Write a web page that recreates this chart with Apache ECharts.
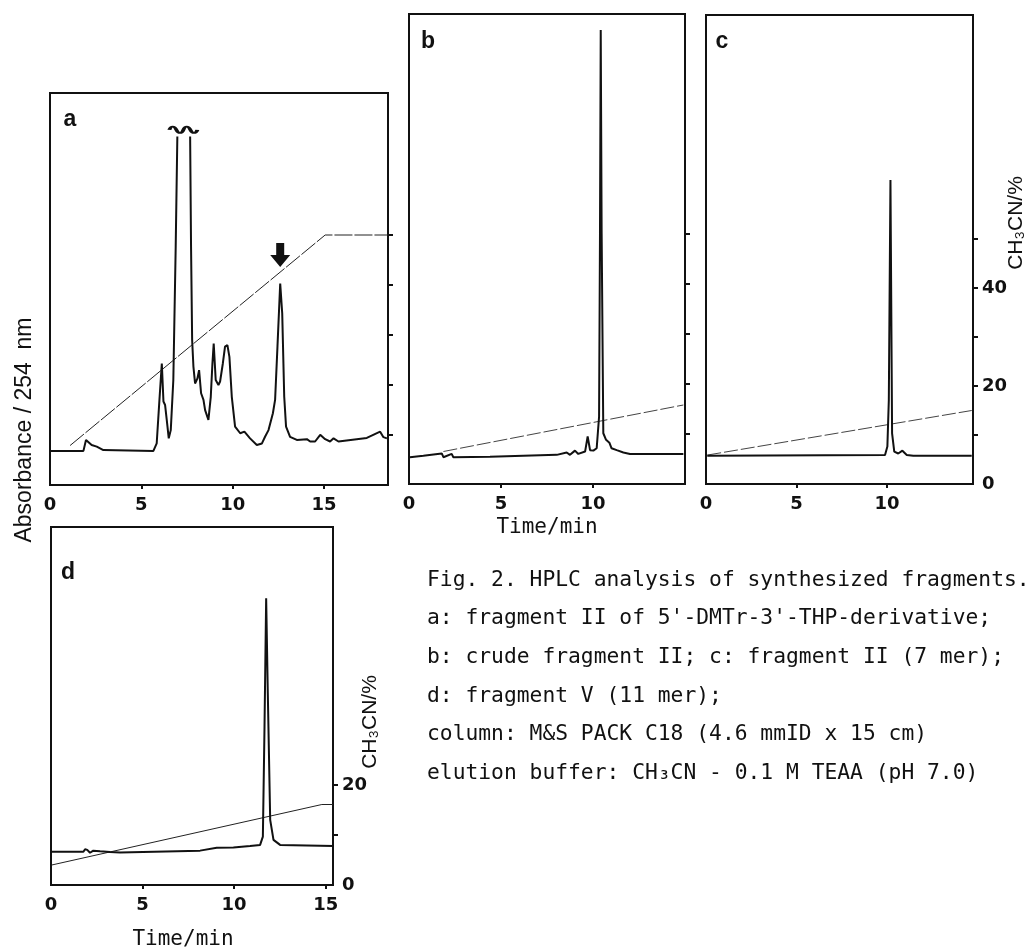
<!DOCTYPE html>
<html>
<head>
<meta charset="utf-8">
<title>Fig. 2. HPLC analysis of synthesized fragments</title>
<script src="https://cdn.jsdelivr.net/npm/echarts@6/dist/echarts.min.js"></script>
<style>
html, body { margin: 0; padding: 0; background: #fff; }
#main { width: 1034px; height: 951px; }
</style>
</head>
<body>
<div id="main"></div>
<script>
// a: fragment II of 5'-DMTr-3'-THP-derivative (absorbance in % of panel height)
var timeA = [0, 1.83, 1.97, 2.28, 2.56, 2.92, 5.66, 5.84, 5.99, 6.12, 6.21, 6.30, 6.39, 6.50, 6.61, 6.75,
  6.88, 6.97, 7.3, 7.67, 7.72, 7.78, 7.85, 7.94, 8.07, 8.16, 8.27, 8.40, 8.49, 8.67, 8.80, 8.89, 8.96,
  9.07, 9.22, 9.31, 9.46, 9.58, 9.71, 9.82, 9.95, 10.13, 10.41, 10.64, 10.95, 11.32, 11.60, 11.77, 11.96,
  12.20, 12.32, 12.45, 12.60, 12.71, 12.82, 12.92, 13.14, 13.51, 14.06, 14.24, 14.51, 14.79, 15.06, 15.33,
  15.52, 15.79, 17.34, 18.07, 18.25, 18.44];
var absA = [8.7, 8.7, 11.5, 10.2, 9.8, 8.9, 8.7, 10.6, 21.7, 31.0, 21.3, 20.4, 16.6, 11.9, 14.0, 26.8,
  60.8, 88.9, null, 88.9, 60.8, 37.0, 30.2, 25.9, 27.2, 29.3, 23.4, 21.7, 19.1, 16.6, 22.5, 31.0, 36.1,
  26.8, 25.5, 26.4, 31.0, 35.3, 35.7, 32.7, 22.5, 14.9, 13.2, 13.6, 11.9, 10.2, 10.6, 12.3, 14.0,
  18.3, 21.7, 35.3, 51.4, 43.8, 22.5, 14.9, 12.3, 11.5, 11.7, 11.1, 11.1, 12.8, 11.7, 11.1,
  11.9, 11.1, 12.0, 13.6, 12.2, 11.9];
var gradTimeA = [1.1, 15.06, 18.5];
var gradA = [7.9, 50, 50];
var arrowA = [12.6, 55.6];
var breakA = [7.3, 90.6];

// b: crude fragment II
var timeB = [0.05, 0.78, 1.78, 1.87, 2.32, 2.41, 4.40, 8.03, 8.57, 8.75, 9.02, 9.20, 9.57, 9.71, 9.77,
  9.84, 10.02, 10.20, 10.33, 10.38, 10.42, 10.47, 10.56, 10.71, 10.89, 11.01, 11.29, 11.65, 12.01, 14.91];
var absB = [5.7, 6.0, 6.5, 5.7, 6.4, 5.7, 5.8, 6.2, 6.7, 6.2, 7.1, 6.4, 6.9, 10.1, 10.1,
  7.2, 7.1, 7.6, 14.3, 53.3, 96.6, 53.3, 10.8, 9.4, 8.8, 7.6, 7.2, 6.7, 6.4, 6.4];
var gradTimeB = [1.87, 14.91];
var gradB = [6.5, 15.8];

// c: fragment II (7 mer)
var timeC = [0.07, 9.89, 10.02, 10.10, 10.19, 10.28, 10.40, 10.62, 10.72, 10.85, 11.09, 11.45, 14.68];
var absC = [6.0, 6.2, 8.0, 17.9, 64.8, 10.8, 6.9, 6.5, 6.9, 7.1, 6.2, 6.0, 6.0];
var gradTimeC = [0.07, 14.68];
var gradC = [5.9, 15.0];

// d: fragment V (11 mer)
var timeD = [0.04, 1.77, 1.86, 1.98, 2.13, 2.31, 2.68, 3.22, 3.77, 8.14, 9.05, 9.96, 10.87, 11.42,
  11.57, 11.66, 11.75, 11.84, 11.97, 12.15, 12.51, 15.43];
var absD = [9.3, 9.3, 10.0, 9.8, 9.0, 9.6, 9.4, 9.2, 9.1, 9.6, 10.4, 10.5, 10.9, 11.2,
  13.5, 44.2, 80.1, 53.5, 18.2, 12.6, 11.2, 10.9];
var gradTimeD = [0.04, 14.79, 15.4];
var gradD = [4.0, 16.1, 16.1];

// tick labels
var timeLabelsLong = [0, 5, 10, 15];
var timeTicksLong = [5, 10, 15];
var timeLabelsShort = [0, 5, 10];
var timeTicksShort = [5, 10];
var pctTicks = [10, 20, 30, 40, 50];
var pctLabelsC = [0, 20, 40];
var pctTicksD = [10, 20];
var pctLabelsD = [0, 20];

var captionLines = [
  'Fig. 2. HPLC analysis of synthesized fragments.',
  "a: fragment II of 5'-DMTr-3'-THP-derivative;",
  'b: crude fragment II; c: fragment II (7 mer);',
  'd: fragment V (11 mer);',
  'column: M&S PACK C18 (4.6 mmID x 15 cm)',
  'elution buffer: CH\u2083CN - 0.1 M TEAA (pH 7.0)'
];

var ink = '#111';
var sans = 'Liberation Sans, Arial, sans-serif';
var tickFont = 'DejaVu Sans, sans-serif';
var mono = 'DejaVu Sans Mono, monospace';

function pts(xs, ys) {
  return xs.map(function (x, i) { return [x, ys[i] == null ? '-' : ys[i]]; });
}

var panels = [
  {left: 50, top: 93, width: 338, height: 392, xMax: 18.5, pctMax: 78.4,
    xLabels: timeLabelsLong, xTicks: timeTicksLong, pctTicks: pctTicks, pctLabels: [],
    trace: pts(timeA, absA), grad: pts(gradTimeA, gradA), gradColor: '#222', dash: [18, 2]},
  {left: 409, top: 14, width: 276, height: 470, xMax: 15, pctMax: 94,
    xLabels: timeLabelsShort, xTicks: timeTicksShort, pctTicks: pctTicks, pctLabels: [],
    trace: pts(timeB, absB), grad: pts(gradTimeB, gradB), gradColor: '#444', dash: [14, 3],
    name: 'Time/min', nameGap: 33, namePad: [0, 0, 0, 0]},
  {left: 706, top: 15, width: 267, height: 469, xMax: 14.75, pctMax: 95.7,
    xLabels: timeLabelsShort, xTicks: timeTicksShort, pctTicks: pctTicks, pctLabels: pctLabelsC,
    trace: pts(timeC, absC), grad: pts(gradTimeC, gradC), gradColor: '#444', dash: [14, 3]},
  {left: 51, top: 527, width: 282, height: 358, xMax: 15.4, pctMax: 71.6,
    xLabels: timeLabelsLong, xTicks: timeTicksLong, pctTicks: pctTicksD, pctLabels: pctLabelsD,
    trace: pts(timeD, absD), grad: pts(gradTimeD, gradD), gradColor: '#222', dash: 'solid',
    name: 'Time/min', nameGap: 44, namePad: [0, 18, 0, 0]}
];

var grids = [], xAxes = [], yAxes = [], series = [];
panels.forEach(function (p, i) {
  grids.push({
    left: p.left, top: p.top, width: p.width, height: p.height,
    show: true, borderColor: ink, borderWidth: 2, backgroundColor: 'transparent'
  });
  xAxes.push({
    gridIndex: i, type: 'value', min: 0, max: p.xMax,
    name: p.name || '', nameLocation: 'middle', nameGap: p.nameGap || 30,
    nameTextStyle: {fontFamily: mono, fontSize: 21, color: ink, padding: p.namePad || 0},
    axisLine: {show: false},
    axisTick: {show: true, customValues: p.xTicks, length: 4, lineStyle: {color: ink, width: 2}},
    axisLabel: {show: true, customValues: p.xLabels, margin: 11, color: ink,
      fontSize: 18, fontWeight: 'bold', fontFamily: tickFont},
    splitLine: {show: false}
  });
  yAxes.push({gridIndex: i, type: 'value', min: 0, max: 100, show: false});
  yAxes.push({
    gridIndex: i, type: 'value', position: 'right', min: 0, max: p.pctMax,
    axisLine: {show: false},
    axisTick: {show: true, customValues: p.pctTicks, length: 5, lineStyle: {color: ink, width: 2}},
    axisLabel: {show: p.pctLabels.length > 0, customValues: p.pctLabels, margin: 9,
      color: ink, fontSize: 18, fontWeight: 'bold', fontFamily: tickFont},
    splitLine: {show: false}
  });
  series.push({
    type: 'line', xAxisIndex: i, yAxisIndex: 2 * i + 1, data: p.grad, z: 2,
    symbol: 'none', silent: true,
    lineStyle: {color: p.gradColor, width: 1, type: p.dash}
  });
  series.push({
    type: 'line', xAxisIndex: i, yAxisIndex: 2 * i, data: p.trace, z: 3,
    symbol: 'none', connectNulls: false, silent: true,
    lineStyle: {color: ink, width: 2}
  });
});

// arrow on the product peak and break mark over the off-scale peaks in a
series[1].markPoint = {
  silent: true,
  label: {show: false},
  data: [
    {coord: arrowA, symbol: 'path://M6,0 L14,0 L14,12 L20,12 L10,24 L0,12 L6,12 Z',
      symbolSize: [20, 24], symbolOffset: [0, -12], itemStyle: {color: ink}},
    {coord: breakA,
      symbol: 'path://M0,5 C2,0 5,0 7.5,5 C10,10 13,10 15,5 C17,0 20,0 22.5,5 C25,10 28,10 30,5',
      symbolSize: [28, 7], itemStyle: {color: 'rgba(0,0,0,0)', borderColor: ink, borderWidth: 2}}
  ]
};

var graphics = [
  {type: 'text', x: 70, y: 120, style: {text: 'a', font: 'bold 23px ' + sans, fill: ink, align: 'center', verticalAlign: 'middle'}},
  {type: 'text', x: 428, y: 42, style: {text: 'b', font: 'bold 23px ' + sans, fill: ink, align: 'center', verticalAlign: 'middle'}},
  {type: 'text', x: 722, y: 42, style: {text: 'c', font: 'bold 23px ' + sans, fill: ink, align: 'center', verticalAlign: 'middle'}},
  {type: 'text', x: 68, y: 573, style: {text: 'd', font: 'bold 23px ' + sans, fill: ink, align: 'center', verticalAlign: 'middle'}},
  {type: 'text', x: 25, y: 430, rotation: Math.PI / 2,
    style: {text: 'Absorbance / 254  nm', font: '23px ' + sans, fill: ink, align: 'center', verticalAlign: 'middle'}},
  {type: 'text', x: 1016, y: 223, rotation: Math.PI / 2,
    style: {text: 'CH\u2083CN/%', font: '21px ' + sans, fill: ink, align: 'center', verticalAlign: 'middle'}},
  {type: 'text', x: 370, y: 722, rotation: Math.PI / 2,
    style: {text: 'CH\u2083CN/%', font: '21px ' + sans, fill: ink, align: 'center', verticalAlign: 'middle'}}
];
captionLines.forEach(function (line, i) {
  graphics.push({
    type: 'text', x: 427, y: 580 + i * 38.7,
    style: {text: line, font: '21.3px ' + mono, fill: ink, align: 'left', verticalAlign: 'middle'}
  });
});

var myChart = echarts.init(document.getElementById('main'));
myChart.setOption({
  animation: false,
  backgroundColor: '#fff',
  grid: grids,
  xAxis: xAxes,
  yAxis: yAxes,
  series: series,
  graphic: graphics
});
</script>
</body>
</html>
